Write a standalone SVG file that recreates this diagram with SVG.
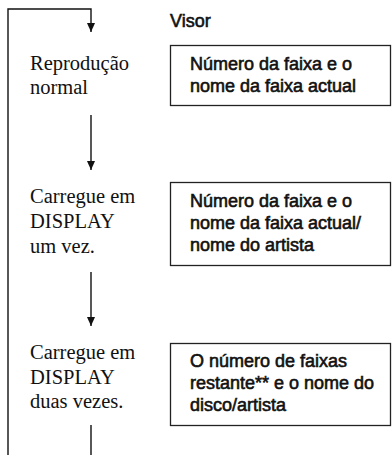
<svg xmlns="http://www.w3.org/2000/svg" width="392" height="455" viewBox="0 0 392 455">
<style>
.step{font-family:"Liberation Serif","Times New Roman",serif;font-size:20.5px;fill:#111}
.disp{font-family:"Liberation Sans",Arial,sans-serif;font-size:18px;fill:#111;stroke:#111;stroke-width:0.6}
.box{fill:#fff;stroke:#222;stroke-width:1.3}
.conn{fill:none;stroke:#111;stroke-width:1.4}
</style>
<defs>
<marker id="arr" markerWidth="10" markerHeight="8" refX="9" refY="4" orient="auto" markerUnits="userSpaceOnUse">
<path d="M0,0 L9,4 L0,8 Z" fill="#111"/>
</marker>
</defs>
<g id="connectors">
<path class="conn" d="M8,455 L8,9 L91,9 L91,32" marker-end="url(#arr)"/>
<path class="conn" d="M91,115 L91,170" marker-end="url(#arr)"/>
<path class="conn" d="M91,272 L91,326" marker-end="url(#arr)"/>
<path class="conn" d="M91,425 L91,455"/>
</g>
<g id="visor-label"><text class="disp" x="170" y="27">Visor</text></g>
<g id="step1">
<text class="step" x="30" y="70">Reprodução</text>
<text class="step" x="30" y="94">normal</text>
</g>
<g id="display1">
<rect class="box" x="170.5" y="45.5" width="220" height="60"/>
<text class="disp" x="190" y="70">Número da faixa e o</text>
<text class="disp" x="190" y="92">nome da faixa actual</text>
</g>
<g id="step2">
<text class="step" x="30" y="203">Carregue em</text>
<text class="step" x="30" y="228">DISPLAY</text>
<text class="step" x="30" y="253">um vez.</text>
</g>
<g id="display2">
<rect class="box" x="170.5" y="182.5" width="220" height="83"/>
<text class="disp" x="190" y="207">Número da faixa e o</text>
<text class="disp" x="190" y="229">nome da faixa actual/</text>
<text class="disp" x="190" y="251">nome do artista</text>
</g>
<g id="step3">
<text class="step" x="30" y="359">Carregue em</text>
<text class="step" x="30" y="384">DISPLAY</text>
<text class="step" x="30" y="408">duas vezes.</text>
</g>
<g id="display3">
<rect class="box" x="170.5" y="343.5" width="220" height="82"/>
<text class="disp" x="190" y="367">O número de faixas</text>
<text class="disp" x="190" y="389">restante** e o nome do</text>
<text class="disp" x="190" y="411">disco/artista</text>
</g>
</svg>
